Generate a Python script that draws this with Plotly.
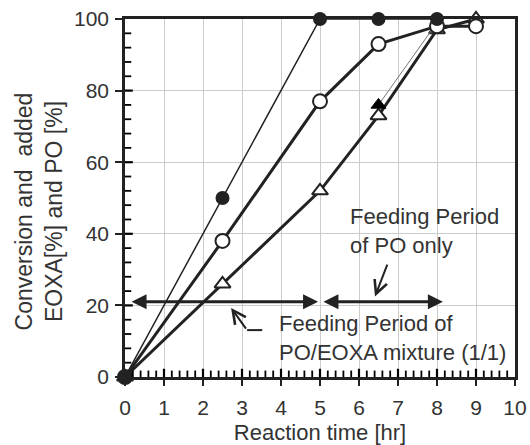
import plotly.graph_objects as go

time = [0, 2.5, 5, 6.5, 8, 9]
conv_filled = [0, 50, 100, 100, 100, None]
conv_open = [0, 38, 77, 93, 98, 98]
added_tri = [0, 26, 52, 73, 97, 100]
extra_x = [6.5, 8]
extra_y = [76, 99]

x_ticks = list(range(0, 11))
y_ticks = [0, 20, 40, 60, 80, 100]
x_minor_step = 0.2
y_minor_step = 4

INK = "#222222"
TXT = "#333333"
FONT = "Liberation Sans, Arial, sans-serif"

fig = go.Figure()

fig.add_trace(go.Scatter(x=time, y=added_tri, mode="lines+markers",
                         line=dict(color=INK, width=3),
                         marker=dict(symbol="triangle-up", size=14, color="white",
                                     line=dict(color=INK, width=2)),
                         showlegend=False, cliponaxis=False))
fig.add_trace(go.Scatter(x=extra_x, y=extra_y, mode="lines",
                         line=dict(color="#777777", width=1),
                         showlegend=False, cliponaxis=False))
fig.add_trace(go.Scatter(x=extra_x[:1], y=extra_y[:1], mode="markers",
                         marker=dict(symbol="triangle-up", size=13, color="black",
                                     line=dict(color="black", width=1)),
                         showlegend=False, cliponaxis=False))
fig.add_trace(go.Scatter(x=time, y=conv_open, mode="lines+markers",
                         line=dict(color=INK, width=3),
                         marker=dict(symbol="circle", size=14, color="white",
                                     line=dict(color=INK, width=2)),
                         showlegend=False, cliponaxis=False))
fig.add_trace(go.Scatter(x=time, y=conv_filled, mode="lines+markers",
                         line=dict(color=INK, width=1.5),
                         marker=dict(symbol="circle", size=14, color=INK),
                         showlegend=False, cliponaxis=False, connectgaps=False))

annotations = [
    dict(x=4.95, y=21, ax=0.13, ay=21, xref="x", yref="y", axref="x", ayref="y",
         text="", showarrow=True, arrowhead=2, startarrowhead=2, arrowside="end+start",
         arrowwidth=3, arrowsize=1, startarrowsize=1, arrowcolor=INK),
    dict(x=8.15, y=21, ax=5.05, ay=21, xref="x", yref="y", axref="x", ayref="y",
         text="", showarrow=True, arrowhead=2, startarrowhead=2, arrowside="end+start",
         arrowwidth=3, arrowsize=1, startarrowsize=1, arrowcolor=INK),
    dict(x=6.41, y=22.5, ax=6.74, ay=31.8, xref="x", yref="y", axref="x", ayref="y",
         text="", showarrow=True, arrowhead=5, arrowwidth=2, arrowsize=1.3, arrowcolor=INK),
    dict(x=2.72, y=19.3, ax=3.13, ay=13.1, xref="x", yref="y", axref="x", ayref="y",
         text="", showarrow=True, arrowhead=5, arrowwidth=2, arrowsize=1.3, arrowcolor=INK),
    dict(x=5.72, y=40.8, xref="x", yref="y", text="Feeding Period<br>of PO only",
         showarrow=False, xanchor="left", yanchor="middle", align="left",
         font=dict(family=FONT, size=22, color=TXT)),
    dict(x=3.9, y=11.0, xref="x", yref="y", text="Feeding Period of<br>PO/EOXA mixture (1/1)",
         showarrow=False, xanchor="left", yanchor="middle", align="left",
         font=dict(family=FONT, size=22, color=TXT)),
    dict(x=-0.22, y=0.463, xref="paper", yref="paper", textangle=-90,
         text="Conversion and  added<br>EOXA[%] and PO [%]",
         showarrow=False, xanchor="center", yanchor="middle", align="center",
         font=dict(family=FONT, size=23, color=TXT)),
]

shapes = [
    dict(type="line", xref="x", yref="y", x0=3.13, y0=13.1, x1=3.52, y1=13.1,
         line=dict(color=INK, width=2)),
]

n_x_minor = int(round((x_ticks[-1] - x_ticks[0]) / x_minor_step))
for k in range(1, n_x_minor):
    xv = x_ticks[0] + k * x_minor_step
    is_major = abs(xv - round(xv)) < 1e-9
    shapes.append(dict(type="line", xref="x", yref="y", layer="above",
                       x0=xv, x1=xv, y0=0, y1=2.3 if is_major else 1.8,
                       line=dict(color="black", width=2.2 if is_major else 1.8)))
n_y_minor = int(round((y_ticks[-1] - y_ticks[0]) / y_minor_step))
for k in range(1, n_y_minor):
    yv = y_ticks[0] + k * y_minor_step
    is_major = yv in y_ticks
    shapes.append(dict(type="line", xref="x", yref="y", layer="above",
                       y0=yv, y1=yv, x0=0, x1=0.2 if is_major else 0.16,
                       line=dict(color="black", width=2.2 if is_major else 1.8)))

fig.update_layout(
    width=530, height=445,
    margin=dict(l=125, r=15, t=19, b=68),
    paper_bgcolor="white", plot_bgcolor="white",
    font=dict(family=FONT, size=21, color=TXT),
    annotations=annotations, shapes=shapes,
    xaxis=dict(range=[0, 10], tickmode="array", tickvals=x_ticks,
               ticktext=[str(v) for v in x_ticks], automargin=False,
               showgrid=True, gridcolor="#cccccc", gridwidth=1,
               showline=True, linecolor=INK, linewidth=2.5, mirror=True,
               ticks="outside", ticklen=6, tickwidth=2, tickcolor=INK,
               ticklabelstandoff=4, zeroline=False,
               title=dict(text="Reaction time [hr]", font=dict(size=22), standoff=8)),
    yaxis=dict(range=[0, 100], tickmode="array", tickvals=y_ticks,
               ticktext=[str(v) for v in y_ticks], automargin=False,
               showgrid=True, gridcolor="#cccccc", gridwidth=1,
               showline=True, linecolor=INK, linewidth=2.5, mirror=True,
               ticks="outside", ticklen=7, tickwidth=2, tickcolor=INK,
               ticklabelstandoff=2, zeroline=False),
)

fig.write_html("out.html")
